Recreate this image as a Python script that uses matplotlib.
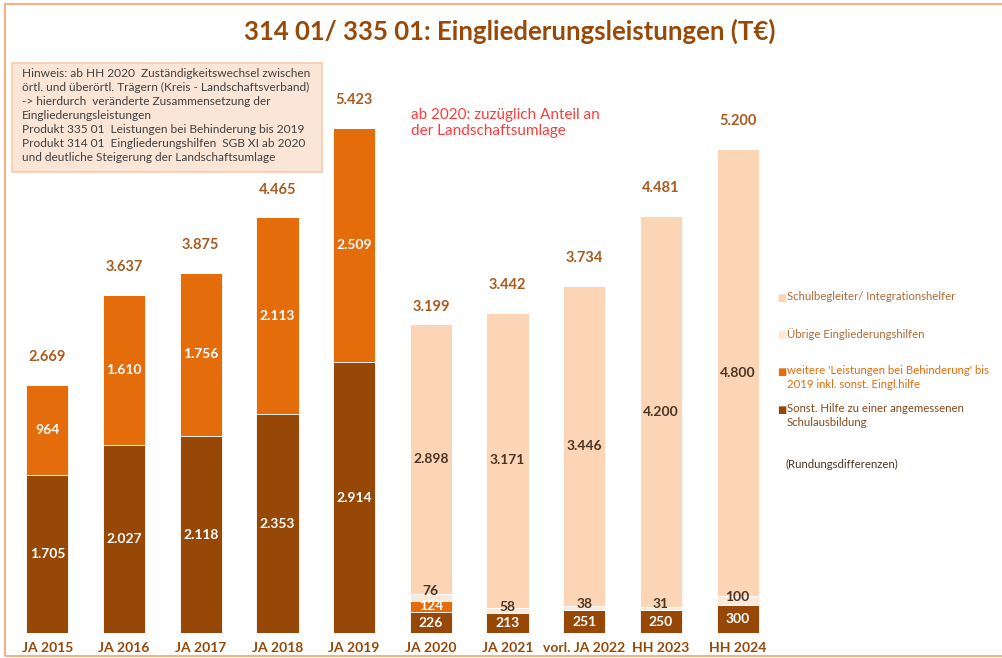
import numpy as np
from matplotlib import pyplot as plt
from matplotlib import patches

years = ['JA 2015', 'JA 2016', 'JA 2017', 'JA 2018', 'JA 2019',
         'JA 2020', 'JA 2021', 'vorl. JA 2022', 'HH 2023', 'HH 2024']
sonst_hilfe = [1705, 2027, 2118, 2353, 2914, 226, 213, 251, 250, 300]
weitere = [964, 1610, 1756, 2113, 2509, 124, 0, 0, 0, 0]
uebrige = [0, 0, 0, 0, 0, 76, 58, 38, 31, 100]
schulbegleiter = [0, 0, 0, 0, 0, 2898, 3171, 3446, 4200, 4800]
totals = [2669, 3637, 3875, 4465, 5423, 3199, 3442, 3734, 4481, 5200]

c_brown = '#974806'
c_orange = '#E46C0A'
c_light = '#FDE9D9'
c_peach = '#FBD5B5'
c_text = '#984807'
c_total = '#A95A1E'
c_dark = '#4A3524'

font = 'Lato'

def fmt(v):
    return f'{v:,}'.replace(',', '.')

fig = plt.figure(figsize=(10.02, 6.58), dpi=100)
ax = fig.add_axes([9/1002, 24.7/658, 767/1002, 558.7/658])
x = np.arange(len(years))
w = 0.55

# (values, bar colour, label colour, label shift in data units)
series = [(sonst_hilfe, c_brown, 'white', 0),
          (weitere, c_orange, 'white', 0),
          (uebrige, c_light, c_dark, 45),
          (schulbegleiter, c_peach, c_dark, 0)]
bottom = np.zeros(len(years))
for vals, col, tcol, shift in series:
    vals = np.array(vals)
    ax.bar(x, vals, w, bottom=bottom, color=col, edgecolor='white', linewidth=0.6)
    for i, v in enumerate(vals):
        if v > 0:
            dy = shift + (25 if (v < 100 and i == 5) else 0)
            ax.text(x[i], bottom[i] + v / 2 + dy, fmt(v), ha='center', va='center',
                    color=tcol, fontsize=10, fontweight='bold', family=font)
    bottom += vals

for i, t in enumerate(totals):
    ax.text(x[i], t + 300, fmt(t), ha='center', va='center', color=c_total,
            fontsize=10.5, fontweight='bold', family=font)

ax.set_xlim(-0.5, len(years) - 0.5)
ax.set_ylim(0, 6000)
ax.set_xticks(x)
ax.set_xticklabels(years, color=c_text, fontsize=10, fontweight='bold', family=font)
ax.tick_params(axis='x', length=0, pad=6)
ax.set_yticks([])
for s in ax.spines.values():
    s.set_visible(False)

# title
fig.text(510/1002, 1 - 31/658, '314 01/ 335 01: Eingliederungsleistungen (T€)',
         ha='center', va='center', color=c_text, fontsize=18.5, fontweight='bold',
         family=font)

# outer frame
fig.patches.append(patches.Rectangle((5/1002, 2/658), 1.0, 652/658, transform=fig.transFigure,
                                     fill=False, edgecolor='#F4B183', linewidth=1.5))

# note box
fig.patches.append(patches.Rectangle((12/1002, 1 - 172/658), 310/1002, 109/658,
                                     transform=fig.transFigure, facecolor='#FBE5D6',
                                     edgecolor='#F8CBAD', linewidth=1.2))
note = ('Hinweis: ab HH 2020  Zuständigkeitswechsel zwischen\n'
        'örtl. und überörtl. Trägern (Kreis - Landschaftsverband)\n'
        '-> hierdurch  veränderte Zusammensetzung der\n'
        'Eingliederungsleistungen\n'
        'Produkt 335 01  Leistungen bei Behinderung bis 2019\n'
        'Produkt 314 01  Eingliederungshilfen  SGB XI ab 2020\n'
        'und deutliche Steigerung der Landschaftsumlage')
fig.text(22/1002, 1 - 68/658, note, ha='left', va='top', color='#404040',
         fontsize=8.6, family=font, linespacing=1.33)

fig.text(411/1002, 1 - 108/658, 'ab 2020: zuzüglich Anteil an\nder Landschaftsumlage',
         ha='left', va='top', color='#FF3B3B', fontsize=11, family=font, linespacing=1.15)

# legend
legend_items = [
    (298, c_peach, 'Schulbegleiter/ Integrationshelfer', '#B06A35'),
    (335, c_light, 'Übrige Eingliederungshilfen', '#B06A35'),
    (372, c_orange, "weitere 'Leistungen bei Behinderung' bis\n2019 inkl. sonst. Eingl.hilfe", c_orange),
    (410, c_brown, 'Sonst. Hilfe zu einer angemessenen\nSchulausbildung', '#8A4A1A'),
]
for ypx, col, lab, tcol in legend_items:
    fig.text(777/1002, 1 - ypx/658, '■', ha='left', va='center', color=col,
             fontsize=7, family='DejaVu Sans')
    fig.text(787/1002, 1 - (ypx - 7)/658, lab, ha='left', va='top', color=tcol,
             fontsize=8.2, family=font, linespacing=1.3)
fig.text(785/1002, 1 - 464/658, '(Rundungsdifferenzen)', ha='left', va='center',
         color=c_dark, fontsize=8.2, family=font)

fig.savefig('out.png', dpi=100)
